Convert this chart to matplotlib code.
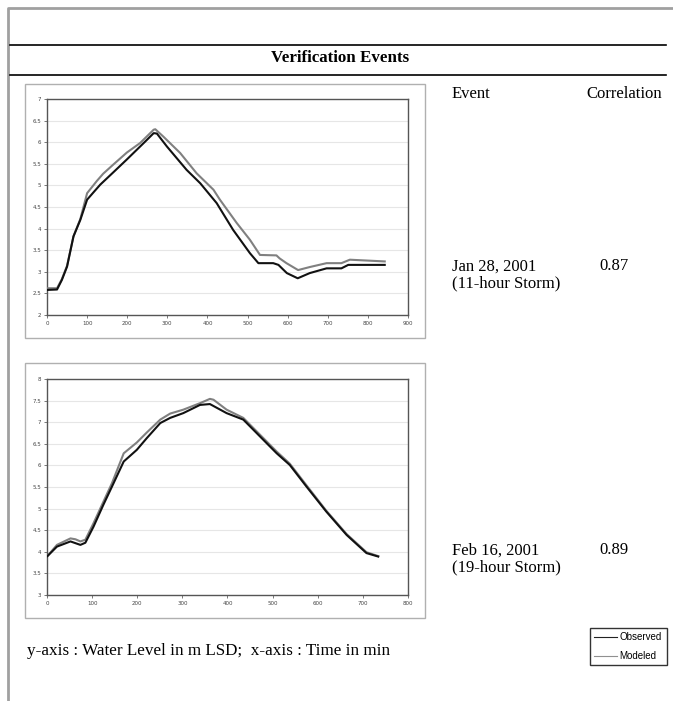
import matplotlib.pyplot as plt
from matplotlib.lines import Line2D
from matplotlib.patches import Rectangle

# Jan 28, 2001 event (11-hour storm)
jan_obs_t = [0, 25, 37, 50, 66, 83, 100, 115, 133, 165, 199, 241, 266, 274, 299, 348, 382, 423,
             464, 506, 527, 564, 577, 598, 625, 655, 697, 734, 751, 842]
jan_obs_h = [2.58, 2.59, 2.81, 3.12, 3.82, 4.2, 4.67, 4.83, 5.02, 5.3, 5.6, 5.98, 6.21, 6.2, 5.9,
             5.36, 5.05, 4.59, 3.97, 3.43, 3.2, 3.2, 3.16, 2.97, 2.85, 2.97, 3.08, 3.08, 3.16, 3.16]
jan_mod_t = [0, 25, 37, 50, 66, 83, 100, 124, 140, 165, 199, 232, 266, 270, 290, 332, 373, 415,
             431, 473, 506, 531, 572, 580, 597, 626, 655, 697, 734, 755, 842]
jan_mod_h = [2.62, 2.62, 2.83, 3.14, 3.82, 4.22, 4.82, 5.1, 5.27, 5.48, 5.76, 5.98, 6.29, 6.3,
             6.13, 5.75, 5.28, 4.9, 4.67, 4.13, 3.74, 3.39, 3.38, 3.31, 3.2, 3.04, 3.11, 3.2,
             3.2, 3.28, 3.24]

# Feb 16, 2001 event (19-hour storm)
feb_obs_t = [0, 22, 52, 63, 74, 85, 103, 125, 144, 170, 199, 221, 251, 273, 302, 339, 361, 398,
             435, 472, 509, 538, 575, 619, 664, 708, 734]
feb_obs_h = [3.89, 4.12, 4.24, 4.2, 4.16, 4.21, 4.58, 5.09, 5.51, 6.09, 6.36, 6.63, 6.98, 7.1, 7.21,
             7.4, 7.42, 7.21, 7.06, 6.67, 6.28, 6.01, 5.51, 4.93, 4.39, 3.97, 3.89]
feb_mod_t = [0, 22, 52, 63, 74, 85, 103, 125, 144, 170, 199, 221, 251, 273, 302, 339, 361, 369,
             398, 435, 472, 509, 538, 575, 619, 664, 708, 734]
feb_mod_h = [3.89, 4.16, 4.31, 4.29, 4.24, 4.28, 4.66, 5.16, 5.59, 6.28, 6.53, 6.76, 7.06, 7.2, 7.29,
             7.44, 7.54, 7.52, 7.29, 7.1, 6.71, 6.32, 6.04, 5.54, 4.95, 4.41, 3.99, 3.9]

events = ["Jan 28, 2001\n(11-hour Storm)", "Feb 16, 2001\n(19-hour Storm)"]
correlations = ["0.87", "0.89"]

W, H = 673, 701
fig = plt.figure(figsize=(W / 100, H / 100), dpi=100)
serif = "Liberation Serif"
sans = "Liberation Sans"


def px_axes(x0, y0, x1, y1):
    # pixel box (top-left origin) -> figure axes
    return fig.add_axes([x0 / W, 1 - y1 / H, (x1 - x0) / W, (y1 - y0) / H])


def fig_line(xs, ys, **kw):
    fig.add_artist(Line2D([x / W for x in xs], [1 - y / H for y in ys],
                          transform=fig.transFigure, **kw))


def fig_text(x, y, s, **kw):
    fig.text(x / W, 1 - y / H, s, **kw)


# page border and title rules
fig_line([8, 8, 673], [701, 8, 8], color="#a0a0a0", lw=2)
fig_line([10, 666], [45, 45], color="black", lw=1.2)
fig_line([10, 666], [75, 75], color="black", lw=1.2)
fig_text(340, 58, "Verification Events", family=serif, fontweight="bold", fontsize=12.2,
         ha="center", va="center")

fig_text(452, 94, "Event", family=serif, fontsize=12, ha="left", va="center")
fig_text(662, 94, "Correlation", family=serif, fontsize=12, ha="right", va="center")


def chart(box, area, t_obs, h_obs, t_mod, h_mod, xmax, ylo, yhi):
    fig.add_artist(Rectangle((box[0] / W, 1 - box[3] / H), (box[2] - box[0]) / W,
                             (box[3] - box[1]) / H, transform=fig.transFigure,
                             fill=False, edgecolor="#b0b0b0", lw=1))
    ax = px_axes(*area)
    ax.plot(t_mod, h_mod, color="#808080", lw=1.5, label="Modeled", zorder=3)
    ax.plot(t_obs, h_obs, color="#111111", lw=1.5, label="Observed", zorder=4)
    ax.set_xlim(0, xmax)
    ax.set_ylim(ylo, yhi)
    ax.set_xticks(range(0, xmax + 1, 100))
    yt = [ylo + 0.5 * i for i in range(int((yhi - ylo) * 2) + 1)]
    ax.set_yticks(yt)
    ax.set_yticklabels([f"{v:g}" for v in yt])
    ax.grid(axis="y", color="#e6e6e6", lw=0.8)
    ax.set_axisbelow(True)
    ax.tick_params(labelsize=4, colors="#444444", length=2, width=0.5, pad=2)
    for s in ax.spines.values():
        s.set_color("#555555")
        s.set_linewidth(1)
    return ax


chart((25, 84, 425, 338), (47, 99, 408, 315), jan_obs_t, jan_obs_h, jan_mod_t, jan_mod_h, 900, 2, 7)
chart((25, 363, 425, 618), (47, 379, 408, 595), feb_obs_t, feb_obs_h, feb_mod_t, feb_mod_h, 800, 3, 8)

for i, (ev, cr) in enumerate(zip(events, correlations)):
    y = [275, 559][i]
    fig_text(452, y, ev, family=serif, fontsize=12, ha="left", va="center", linespacing=1.1)
    fig_text(614, y - 9, cr, family=serif, fontsize=12, ha="center", va="center")

fig_text(27, 651, "y-axis : Water Level in m LSD;  x-axis : Time in min", family=serif,
         fontsize=12.3, ha="left", va="center")

# legend box
fig.add_artist(Rectangle((590 / W, 1 - 665 / H), 77 / W, 37 / H, transform=fig.transFigure,
                         fill=False, edgecolor="#333333", lw=1))
fig_line([594, 617], [637, 637], color="#222222", lw=0.8)
fig_line([594, 617], [656, 656], color="#909090", lw=0.8)
fig_text(619, 637, "Observed", family=sans, fontsize=7, ha="left", va="center")
fig_text(619, 656, "Modeled", family=sans, fontsize=7, ha="left", va="center")

fig.savefig("out.png", dpi=100)
